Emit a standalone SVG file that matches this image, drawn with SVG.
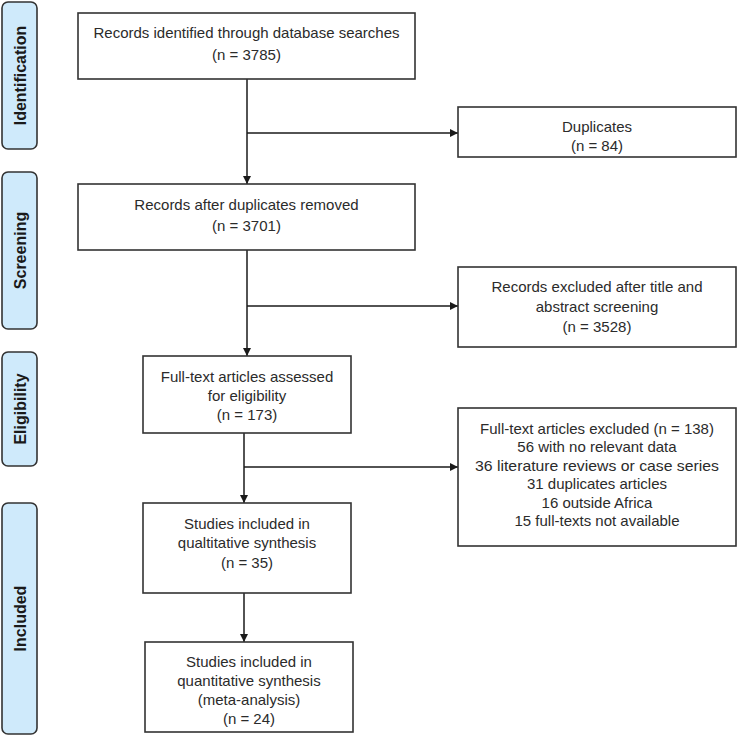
<svg xmlns="http://www.w3.org/2000/svg" width="738" height="736" viewBox="0 0 738 736">
<defs>
<marker id="arr" markerWidth="8" markerHeight="8" refX="8" refY="4" orient="auto" markerUnits="userSpaceOnUse">
<path d="M0,0 L8,4 L0,8 Z" fill="#1a1a1a"/>
</marker>
<style>
.box{fill:#fff;stroke:#333;stroke-width:1.6}
.phase{fill:#cfeafb;stroke:#333;stroke-width:1.6}
.t{font-family:"Liberation Sans",Arial,sans-serif;font-size:15px;fill:#2b2b2b;text-anchor:middle}
.p{font-family:"Liberation Sans",Arial,sans-serif;font-size:16px;font-weight:bold;fill:#1a1a1a;text-anchor:middle}
.c{fill:none;stroke:#1a1a1a;stroke-width:1.5}
</style>
</defs>
<rect width="738" height="736" fill="#fff"/>

<g id="phase-identification">
<rect class="phase" x="2" y="2" width="35" height="147" rx="6"/>
<text class="p" transform="translate(25.5,75.5) rotate(-90)">Identification</text>
</g>
<g id="phase-screening">
<rect class="phase" x="2" y="172" width="35" height="157" rx="6"/>
<text class="p" transform="translate(25.5,250.5) rotate(-90)">Screening</text>
</g>
<g id="phase-eligibility">
<rect class="phase" x="2" y="352" width="35" height="114" rx="6"/>
<text class="p" transform="translate(25.5,409) rotate(-90)">Eligibility</text>
</g>
<g id="phase-included">
<rect class="phase" x="2" y="503" width="35" height="231" rx="6"/>
<text class="p" transform="translate(25.5,618.5) rotate(-90)">Included</text>
</g>

<g id="connectors">
<line class="c" x1="247" y1="79" x2="247" y2="184" marker-end="url(#arr)"/>
<line class="c" x1="247" y1="133" x2="458" y2="133" marker-end="url(#arr)"/>
<line class="c" x1="247" y1="250" x2="247" y2="356" marker-end="url(#arr)"/>
<line class="c" x1="247" y1="306" x2="458" y2="306" marker-end="url(#arr)"/>
<line class="c" x1="244" y1="433" x2="244" y2="503" marker-end="url(#arr)"/>
<line class="c" x1="244" y1="467" x2="458" y2="467" marker-end="url(#arr)"/>
<line class="c" x1="244" y1="593" x2="244" y2="642" marker-end="url(#arr)"/>
</g>

<g id="records-identified">
<rect class="box" x="78" y="13" width="337" height="66"/>
<text class="t" x="246.5" y="38">Records identified through database searches</text>
<text class="t" x="246.5" y="60">(n = 3785)</text>
</g>
<g id="duplicates">
<rect class="box" x="458" y="107" width="278" height="50"/>
<text class="t" x="597" y="132">Duplicates</text>
<text class="t" x="597" y="151">(n = 84)</text>
</g>
<g id="records-after-duplicates">
<rect class="box" x="78" y="184" width="337" height="66"/>
<text class="t" x="246.5" y="210">Records after duplicates removed</text>
<text class="t" x="246.5" y="231">(n = 3701)</text>
</g>
<g id="records-excluded">
<rect class="box" x="458" y="267" width="278" height="80"/>
<text class="t" x="597" y="292">Records excluded after title and</text>
<text class="t" x="597" y="312">abstract screening</text>
<text class="t" x="597" y="332">(n = 3528)</text>
</g>
<g id="full-text-assessed">
<rect class="box" x="143" y="356" width="208" height="77"/>
<text class="t" x="247" y="382">Full-text articles assessed</text>
<text class="t" x="247" y="401">for eligibility</text>
<text class="t" x="247" y="420">(n = 173)</text>
</g>
<g id="full-text-excluded">
<rect class="box" x="458" y="408" width="278" height="138"/>
<text class="t" x="597" y="434">Full-text articles excluded (n = 138)</text>
<text class="t" x="597" y="452">56 with no relevant data</text>
<text class="t" x="597" y="471" textLength="244" lengthAdjust="spacingAndGlyphs">36 literature reviews or case series</text>
<text class="t" x="597" y="489">31 duplicates articles</text>
<text class="t" x="597" y="508">16 outside Africa</text>
<text class="t" x="597" y="526">15 full-texts not available</text>
</g>
<g id="qualitative">
<rect class="box" x="143" y="503" width="208" height="90"/>
<text class="t" x="247" y="529">Studies included in</text>
<text class="t" x="247" y="548">qualtitative synthesis</text>
<text class="t" x="247" y="568">(n = 35)</text>
</g>
<g id="quantitative">
<rect class="box" x="145" y="642" width="208" height="90"/>
<text class="t" x="249" y="667">Studies included in</text>
<text class="t" x="249" y="686">quantitative synthesis</text>
<text class="t" x="249" y="705">(meta-analysis)</text>
<text class="t" x="249" y="724">(n = 24)</text>
</g>
</svg>
